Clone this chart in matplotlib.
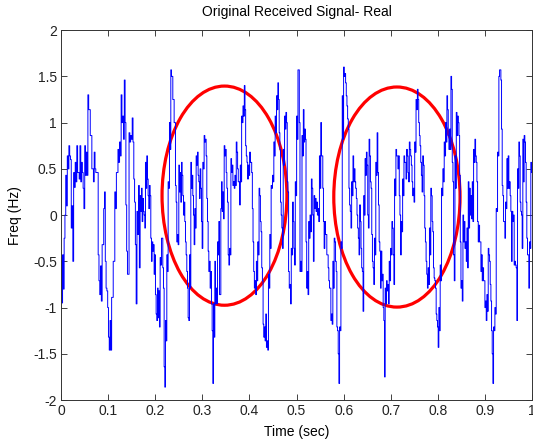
import numpy as np
import matplotlib
matplotlib.use("Agg")
import matplotlib.pyplot as plt
from matplotlib.patches import Ellipse

plt.rcParams.update({"font.family": ["Liberation Sans", "DejaVu Sans"], "font.size": 10})

# received signal, read in six consecutive stretches of the time axis
SEG_EDGES = [0.0, 0.168, 0.335, 0.503, 0.671, 0.839, 1.0]

SEG1 = [-0.5, -0.95, -0.43, -0.8, -0.25, 0.0, 0.43, 0.1, 0.64, 0.5, 0.75, 0.64,
        0.6, -0.14, 0.1, -0.5, 0.46, 0.3, 0.57, 0.36, 0.75, 0.46, 0.46, 0.39,
        0.75, 0.36, 0.57, 0.46, 0.29, 0.07, 0.75, 0.43, 0.68, 0.43, 1.3, 1.14,
        1.14, 0.86, 0.86, 0.5, 0.5, 0.36, 0.68, 0.5, 0.46, 0.46, 0.46, -0.43,
        -0.71, -0.86, -0.55, -0.93, -0.32, -0.32, 0.07, 0.25, -0.5, -0.79,
        -0.82, -1.0, -1.32, -1.46, -1.14, -1.46, -0.89, -0.89, -0.5, -0.5,
        0.25, 0.07, 0.46, 0.46, 0.71, 0.57, 0.79, 0.64, 1.3, 1.0, 1.07, 0.82,
        1.46, 1.0, 0.11, -0.39, -0.64, -0.64, 0.89, 0.79, 0.86, 0.82, 1.05, 0.79,
        0.39, 0.14, -0.32, -0.96, 0.04, -0.21, 0.32, -0.57]

SEG2 = [0.21, 0.04, 0.29, -0.07, 0.18, 0.04, 0.0, -0.14, 0.57, 0.29, 0.64, 0.39,
        0.21, 0.07, 0.32, 0.21, -0.25, -0.5, -0.29, -0.39, -0.32, -0.64,
        -0.43, -0.86, -1.07, -1.14, -0.79, -1.11, -0.82, -1.21, -0.46, -0.54,
        -0.25, -0.25, -0.57, -0.79, -1.64, -1.86, -1.14, -1.36, -0.43, -0.61,
        0.36, 0.29, 1.0, 0.71, 1.57, 1.5, 1.5, 1.25, 1.25, 1.0, 1.0, 0.32,
        0.14, -0.29, -0.21, -0.32, 0.54, 0.25, 0.46, 0.14, 0.57, 0.43, 0.21, 0.0,
        0.14, -0.07, -0.29, -0.43, -0.61, -0.79, -1.11, -1.14, -0.43, -0.79,
        0.57, 0.29, 0.43, 0.21, 0.0, -0.32, 0.07, -0.14, 0.64, 0.54, 0.68, 0.43,
        0.36, 0.18, 0.5, 0.29, -0.07, -0.36, 0.57, 0.5, 0.86, 0.79, 0.82, 0.64,
        0.18, -0.07, -0.39, -0.61, -0.5, -0.79, -0.61, -0.96, -1.25, -1.82,
        -0.96, -1.32, -0.5, -0.96, -0.79, -0.96, -0.29, -0.43]

SEG3 = [-0.07, -0.86, -0.86, 0.07, 0.36, 0.04, 0.25, -0.04, 0.75, 0.64, 0.71, 0.46,
        0.29, 0.14, -0.43, -0.54, -0.36, -0.43, 0.61, 0.46, 0.54, 0.32, 0.36, 0.29,
        0.43, 0.32, 0.79, 0.68, 0.5, 0.36, 0.36, 0.11, 0.54, 0.36, 1.07, 1.0,
        1.18, 1.07, 1.4, 1.14, 0.75, 0.64, 0.57, 0.39, 0.54, 0.43, 0.68, 0.57,
        0.57, 0.46, 0.07, -0.29, -0.61, -0.79, -0.71, -0.86, -0.5, -0.71,
        -0.29, -0.43, 0.29, 0.21, -0.07, -0.18, -0.57, -0.71, -1.18, -1.32,
        -1.21, -1.36, -1.07, -1.43, -1.36, -1.46, -0.64, -0.79, -0.21, -0.36,
        0.32, 0.29, 0.43, 0.36, 0.79, 0.64, 1.07, 0.89, 1.29, 1.14, 1.43, 1.25,
        0.89, 0.71, 0.14, 0.0, -0.14, -0.36, 0.71, 0.54, 1.07, 0.93, 1.11, 1.0,
        0.36, 0.25, -0.61, -0.79, -0.75, -0.96, -0.36, -0.43, 0.14, -0.07,
        -0.36, -0.54, 0.36, 0.21, 1.07, 0.82]

SEG4 = [1.57, 1.57, 1.0, -0.61, -0.5, -0.61, 0.86, 0.64, 1.14, 0.79, 0.93, 0.82,
        -0.29, -0.79, -0.61, -0.86, -0.07, -0.25, 0.0, -0.18, 0.39, 0.29, 0.0, -0.5,
        0.21, 0.07, 0.18, 0.04, 0.14, 0.0, 0.07, -0.07, 0.64, 0.29, 1.0, 0.64,
        0.64, 0.29, -0.07, -0.36, -0.07, -0.21, -0.21, -0.43, -0.43, -0.57,
        -0.71, -0.79, -0.79, -1.14, -1.07, -1.18, -0.5, -0.79, -0.25, -0.29,
        -0.5, -0.61, -1.21, -1.25, -1.5, -1.82, -1.21, -1.25, -0.29, -0.36,
        1.29, 0.82, 1.6, 1.5, 1.53, 1.43, 1.29, 1.18, 1.04, 0.93, 0.29, 0.11,
        0.04, -0.14, 0.36, 0.21, 0.64, 0.36, 0.5, 0.36, 0.29, 0.18, 0.0, -0.14,
        -0.25, -0.43, 0.11, -0.07, -0.36, -0.57, -0.61, -1.04, 0.21, 0.0,
        0.61, 0.43, 0.68, 0.54, 0.0, -0.14, 0.82, 0.64, 0.36, 0.29, -0.21, -0.5,
        -0.57, -0.75, -0.25, -0.43, 0.57, 0.43]

SEG5 = [0.89, 0.46, 0.11, -0.29, -0.39, -0.79, -0.39, -0.71, -0.64, -1.0,
        -1.14, -1.75, -0.79, -0.96, -0.71, -0.82, -0.75, -0.96, -0.5, -0.71,
        -0.36, -0.43, -0.07, -0.14, -0.43, -0.75, 0.39, 0.21, 0.71, 0.64, 0.64, 0.5,
        0.64, 0.21, 0.0, -0.43, -0.07, -0.18, 0.39, 0.21, 0.64, 0.57, 0.57, 0.39,
        0.71, 0.64, 0.46, 0.36, 0.79, 0.71, 0.64, 0.54, 0.36, 0.21, 0.29, 0.14,
        0.79, 0.68, 1.25, 1.14, 1.36, 1.25, 1.0, 0.86, 0.75, 0.57, 0.43, 0.25,
        0.64, 0.54, 0.21, -0.14, -0.29, -0.5, -0.64, -0.79, -0.57, -0.75,
        -0.14, -0.43, 0.29, 0.21, -0.07, -0.18, -0.57, -0.68, -0.71, -0.79,
        -1.07, -1.14, -1.21, -1.43, -1.0, -1.25, -0.54, -0.71, 0.29, 0.21,
        0.5, 0.36, 0.79, 0.64, 1.0, 0.79, 1.29, 1.14, 0.86, 0.71, 0.93, 0.71,
        1.5, 1.36, 0.57, 0.36, -0.43, -0.71, 0.64, 0.29]

SEG6 = [1.11, 0.86, 1.07, 1.0, 0.86, 0.43, -0.29, -0.79, -0.71, -0.93, 0.0, -0.29,
        -0.07, -0.36, -0.29, -0.5, -0.14, -0.57, 0.36, -0.14, 0.29, 0.0, 0.21, -0.04,
        0.36, -0.07, 0.71, 0.57, 0.82, 0.64, 0.57, 0.36, -0.07, -0.29, -0.11, -0.29,
        -0.29, -0.61, -0.43, -0.71, -0.57, -0.71, -0.71, -1.0, -0.93, -1.14,
        -0.86, -1.04, -0.36, -0.43, -0.5, -0.75, -0.93, -1.25, -1.5, -1.82,
        -1.21, -1.25, -1.0, -1.07, 0.07, 0.04, 0.68, 0.64, 1.5, 1.57, 1.57, 1.46,
        0.93, 0.32, 0.21, -0.07, -0.07, -0.25, 0.14, 0.07, 0.61, 0.29, 0.64, 0.29,
        0.36, 0.21, 0.04, -0.5, 0.04, -0.07, 0.0, -0.54, -0.5, -0.54, -0.57, -1.14,
        0.5, 0.29, 0.79, 0.64, 0.14, 0.04, 0.0, -0.36, 0.82, 0.36, 0.86, 0.79,
        0.57, 0.14, -0.25, -0.43, -0.43, -0.79, -0.29, -0.36, 0.57, 0.46]

SEGMENTS = [SEG1, SEG2, SEG3, SEG4, SEG5, SEG6]

# highlighted regions: (centre time, centre value, width, height)
REGIONS = [(0.347, 0.21, 0.265, 2.37), (0.713, 0.195, 0.268, 2.38)]

X_TICKS = [0, 0.1, 0.2, 0.3, 0.4, 0.5, 0.6, 0.7, 0.8, 0.9, 1]
X_LABELS = ["0", "0.1", "0.2", "0.3", "0.4", "0.5", "0.6", "0.7", "0.8", "0.9", "1"]
Y_TICKS = [-2, -1.5, -1, -0.5, 0, 0.5, 1, 1.5, 2]
Y_LABELS = ["-2", "-1.5", "-1", "-0.5", "0", "0.5", "1", "1.5", "2"]

t_parts = []
for i, seg in enumerate(SEGMENTS):
    t_parts.append(np.linspace(SEG_EDGES[i], SEG_EDGES[i + 1], len(seg), endpoint=False))
t = np.concatenate(t_parts)
sig = np.concatenate([np.array(s) for s in SEGMENTS])

fig = plt.figure(figsize=(5.33, 4.43), dpi=100)
ax = fig.add_axes([0.1144, 0.097, 0.884, 0.835])

ax.plot(t, sig, color="#0000ff", lw=0.7, drawstyle="steps-post")

for cx, cy, w, h in REGIONS:
    ax.add_patch(Ellipse((cx, cy), w, h, fill=False, edgecolor="#ff0000", lw=2.3))

ax.set_xlim(0, 1)
ax.set_ylim(-2, 2)
ax.set_xticks(X_TICKS)
ax.set_xticklabels(X_LABELS)
ax.set_yticks(Y_TICKS)
ax.set_yticklabels(Y_LABELS)
ax.tick_params(direction="in", top=True, right=True, length=4, width=0.6,
               colors="#222222", labelsize=10, pad=3)
for sp in ax.spines.values():
    sp.set_linewidth(0.7)
    sp.set_color("#333333")

ax.set_xlabel("Time (sec)", fontsize=10, labelpad=5)
ax.set_ylabel("Freq (Hz)", fontsize=10, labelpad=8)
ax.set_title("Original Received Signal- Real", fontsize=10, pad=10)

fig.savefig("out.png", dpi=100, facecolor="white")
